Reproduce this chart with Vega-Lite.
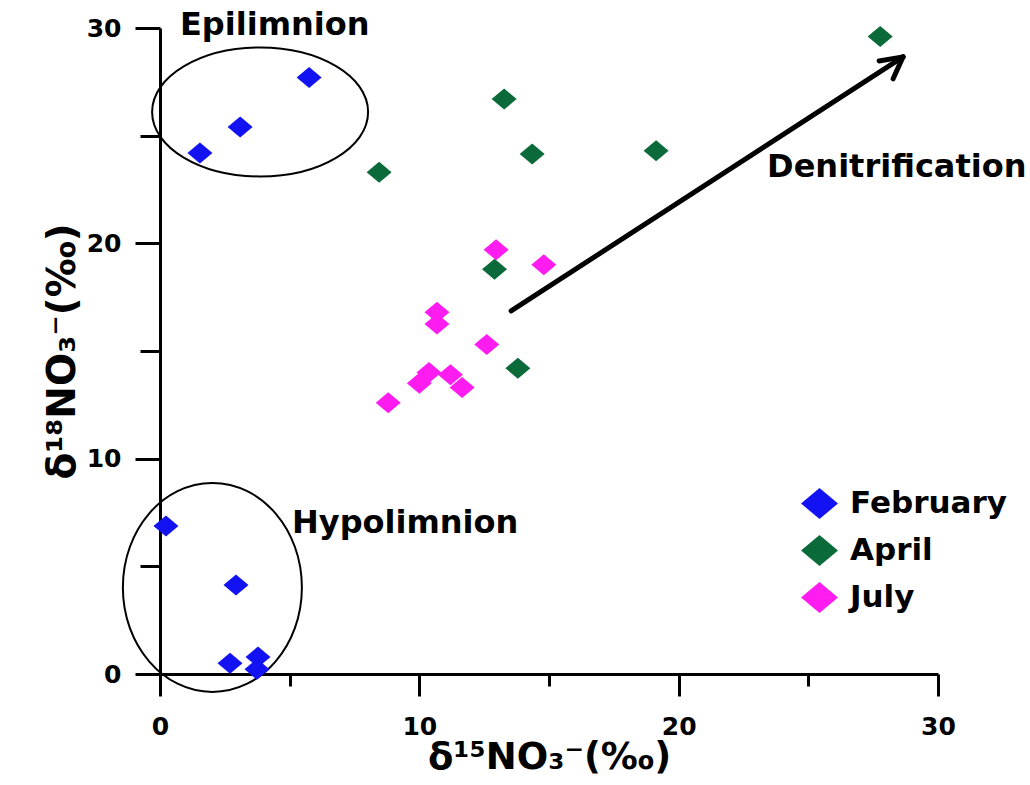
{
  "$schema": "https://vega.github.io/schema/vega-lite/v6.json",
  "width": 778,
  "height": 646,
  "autosize": "none",
  "padding": {"left": 160, "top": 28, "right": 92, "bottom": 111},
  "background": "white",
  "config": {"view": {"stroke": null}},
  "datasets": {
    "samples": [
      {"month": "February", "d15N": 1.54, "d18O": 24.2},
      {"month": "February", "d15N": 3.09, "d18O": 25.4},
      {"month": "February", "d15N": 5.75, "d18O": 27.7},
      {"month": "February", "d15N": 0.23, "d18O": 6.87},
      {"month": "February", "d15N": 2.93, "d18O": 4.13},
      {"month": "February", "d15N": 2.7, "d18O": 0.5},
      {"month": "February", "d15N": 3.78, "d18O": 0.79},
      {"month": "February", "d15N": 3.74, "d18O": 0.22},
      {"month": "April", "d15N": 8.45, "d18O": 23.3},
      {"month": "April", "d15N": 13.27, "d18O": 26.7},
      {"month": "April", "d15N": 14.35, "d18O": 24.15},
      {"month": "April", "d15N": 19.13, "d18O": 24.3},
      {"month": "April", "d15N": 12.9, "d18O": 18.8},
      {"month": "April", "d15N": 13.8, "d18O": 14.2},
      {"month": "April", "d15N": 27.77, "d18O": 29.6},
      {"month": "July", "d15N": 12.96, "d18O": 19.7},
      {"month": "July", "d15N": 14.8, "d18O": 19.0},
      {"month": "July", "d15N": 10.68, "d18O": 16.8},
      {"month": "July", "d15N": 10.68, "d18O": 16.25},
      {"month": "July", "d15N": 12.6, "d18O": 15.3},
      {"month": "July", "d15N": 10.37, "d18O": 14.0},
      {"month": "July", "d15N": 10.0, "d18O": 13.5},
      {"month": "July", "d15N": 11.2, "d18O": 13.9},
      {"month": "July", "d15N": 11.65, "d18O": 13.3},
      {"month": "July", "d15N": 8.8, "d18O": 12.6}
    ],
    "regions": [
      {"name": "Epilimnion", "x": 3.86, "y": 26.1},
      {"name": "Hypolimnion", "x": 2.02, "y": 4.02}
    ],
    "labels": [
      {"text": "Epilimnion", "x": 0.77, "y": 29.68},
      {"text": "Hypolimnion", "x": 5.09, "y": 6.55},
      {"text": "Denitrification", "x": 23.41, "y": 23.08}
    ],
    "arrow": [
      {"x": 13.54, "y": 16.86, "x2": 28.65, "y2": 28.66},
      {"x": 27.73, "y": 28.47, "x2": 28.65, "y2": 28.66},
      {"x": 28.27, "y": 27.64, "x2": 28.65, "y2": 28.66}
    ]
  },
  "layer": [
    {
      "data": {"name": "regions"},
      "transform": [{"filter": "datum.name === 'Epilimnion'"}],
      "mark": {
        "type": "point",
        "shape": "M -1 0 C -1 -0.3297 -0.5523 -0.597 0 -0.597 C 0.5523 -0.597 1 -0.3297 1 0 C 1 0.3297 0.5523 0.597 0 0.597 C -0.5523 0.597 -1 0.3297 -1 0 Z",
        "size": 46656,
        "filled": false,
        "stroke": "black",
        "strokeWidth": 2,
        "opacity": 1
      },
      "encoding": {
        "x": {"field": "x", "type": "quantitative"},
        "y": {"field": "y", "type": "quantitative"}
      }
    },
    {
      "data": {"name": "regions"},
      "transform": [{"filter": "datum.name === 'Hypolimnion'"}],
      "mark": {
        "type": "point",
        "shape": "M -0.8565 0 C -0.8565 -0.5523 -0.473 -1 0 -1 C 0.473 -1 0.8565 -0.5523 0.8565 0 C 0.8565 0.5523 0.473 1 0 1 C -0.473 1 -0.8565 0.5523 -0.8565 0 Z",
        "size": 43681,
        "filled": false,
        "stroke": "black",
        "strokeWidth": 2,
        "opacity": 1
      },
      "encoding": {
        "x": {"field": "x", "type": "quantitative"},
        "y": {"field": "y", "type": "quantitative"}
      }
    },
    {
      "data": {"name": "arrow"},
      "mark": {"type": "rule", "color": "black", "strokeWidth": 5, "strokeCap": "round"},
      "encoding": {
        "x": {"field": "x", "type": "quantitative"},
        "y": {"field": "y", "type": "quantitative"},
        "x2": {"field": "x2"},
        "y2": {"field": "y2"}
      }
    },
    {
      "data": {"name": "samples"},
      "mark": {
        "type": "point",
        "shape": "M -1 0 L 0 -0.84 L 1 0 L 0 0.84 Z",
        "size": 625,
        "filled": true,
        "opacity": 1
      },
      "encoding": {
        "x": {
          "field": "d15N",
          "type": "quantitative",
          "scale": {"domain": [0, 30], "nice": false, "zero": false},
          "axis": {
            "values": [0, 5, 10, 15, 20, 25, 30],
            "labelExpr": "datum.value % 10 === 0 ? datum.label : ''",
            "grid": false,
            "domainColor": "black",
            "domainWidth": 3,
            "tickColor": "black",
            "tickWidth": 3,
            "tickSize": {"condition": {"test": "datum.value % 10 === 0", "value": 22}, "value": 12},
            "labelFont": "DejaVu Sans",
            "labelFontWeight": "bold",
            "labelFontSize": 25,
            "labelColor": "black",
            "labelPadding": 18,
            "labelOverlap": false,
            "labelFlush": false,
            "title": "δ¹⁵NO₃⁻(‰)",
            "titleFont": "DejaVu Sans",
            "titleFontWeight": "bold",
            "titleFontSize": 37,
            "titleColor": "black",
            "titlePadding": 0
          }
        },
        "y": {
          "field": "d18O",
          "type": "quantitative",
          "scale": {"domain": [0, 30], "nice": false, "zero": false},
          "axis": {
            "values": [0, 5, 10, 15, 20, 25, 30],
            "labelExpr": "datum.value % 10 === 0 ? datum.label : ''",
            "grid": false,
            "domainColor": "black",
            "domainWidth": 3,
            "tickColor": "black",
            "tickWidth": 3,
            "tickSize": {"condition": {"test": "datum.value % 10 === 0", "value": 25}, "value": 20},
            "labelFont": "DejaVu Sans",
            "labelFontWeight": "bold",
            "labelFontSize": 25,
            "labelColor": "black",
            "labelPadding": 14,
            "labelOverlap": false,
            "labelFlush": false,
            "title": "δ¹⁸NO₃⁻(‰)",
            "titleFont": "DejaVu Sans",
            "titleFontWeight": "bold",
            "titleFontSize": 39,
            "titleColor": "black",
            "titlePadding": 4
          }
        },
        "color": {
          "field": "month",
          "type": "nominal",
          "scale": {"domain": ["February", "April", "July"], "range": ["#1212f2", "#0b6a3a", "#ff1cf0"]},
          "legend": {
            "title": null,
            "orient": "none",
            "legendX": 641,
            "legendY": 457,
            "padding": 0,
            "symbolType": "M -1 0 L 0 -0.84 L 1 0 L 0 0.84 Z",
            "symbolSize": 1369,
            "symbolStrokeWidth": 0,
            "symbolOpacity": 1,
            "rowPadding": 12,
            "labelOffset": 12,
            "labelFont": "DejaVu Sans",
            "labelFontWeight": "bold",
            "labelFontSize": 31,
            "labelColor": "black",
            "labelLimit": 300
          }
        }
      }
    },
    {
      "data": {"name": "labels"},
      "mark": {
        "type": "text",
        "align": "left",
        "baseline": "alphabetic",
        "font": "DejaVu Sans",
        "fontWeight": "bold",
        "fontSize": 32,
        "color": "black"
      },
      "encoding": {
        "x": {"field": "x", "type": "quantitative"},
        "y": {"field": "y", "type": "quantitative"},
        "text": {"field": "text"}
      }
    }
  ]
}
